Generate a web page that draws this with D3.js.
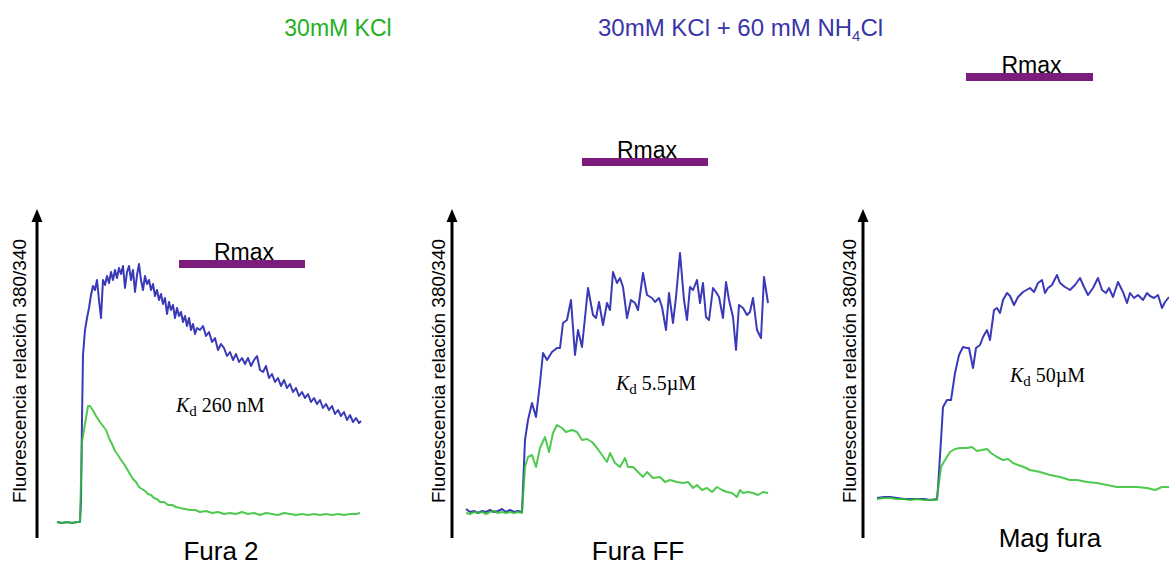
<!DOCTYPE html>
<html><head><meta charset="utf-8">
<script src="https://cdn.jsdelivr.net/npm/d3@7"></script>
<style>body{margin:0;background:#fff}svg{display:block}</style>
</head><body><svg id="c" width="1169" height="565"></svg>
<script>
// ---------------- DATA ----------------
// time (arbitrary s) and fluorescence ratio (arbitrary units, baseline = 0)
const panelNames = ["Fura 2", "Fura FF", "Mag fura"];
const kdValues = ["260 nM", "5.5\u00B5M", "50\u00B5M"];
const titleKcl = "30mM KCl";
const titleNh4 = ["30mM KCl + 60 mM NH", "4", "Cl"];
const yAxisLabel = "Fluorescencia relación 380/340";

// Fura 2
const fura2NhT = [0,5,10,15,20,23,24,25,26,28,30,32,34,36,38,40,42,44,46,48,50,52,54,56,58,60,62,64,66,68,70,72,74,76,78,80,82,84,86,88,90,92,94,96,98,100,102,104,106,108,110,112,114,116,118,120,122,124,126,128,130,132,134,136,138,140,143,146,149,152,155,158,161,164,167,170,173,176,179,182,185,188,191,194,197,200,203,206,209,212,215,218,221,224,227,230,233,236,239,242,245,248,251,254,257,260,263,266,269,272,275,278,281,284,287,290,293,296,299,302,304];
const fura2NhV = [1,0,1,0,1,1,23,103,168,193,205,215,228,237,233,243,223,205,243,238,247,240,251,243,253,245,255,249,257,235,251,257,243,253,231,248,259,243,233,247,239,243,233,239,227,233,223,229,219,225,209,221,213,218,205,215,207,211,201,207,197,205,193,199,189,195,193,197,187,191,181,185,173,179,175,167,171,163,169,161,165,159,165,157,163,167,153,151,157,145,149,141,145,137,143,135,139,131,135,127,131,125,129,121,125,119,123,115,119,113,117,109,113,107,111,103,108,101,105,100,102];
const fura2KclT = [0,5,10,15,20,23,24,25,27,29,31,33,35,37,39,41,43,46,49,52,55,58,61,64,67,70,73,76,79,82,85,88,91,94,97,100,103,107,111,115,119,123,128,133,138,143,149,155,161,167,173,179,185,191,197,203,209,215,221,227,233,239,245,251,257,263,269,275,281,287,293,299,303];
const fura2KclV = [1,0,1,0,1,1,43,81,93,105,117,117,114,111,107,104,101,97,93,85,79,72,68,63,59,54,49,44,41,36,34,32,29,28,25,24,21,21,18,18,16,15,14,13,13,11,12,10,11,9,10,9,11,9,10,8,10,9,8,10,9,8,9,8,9,8,9,8,9,8,9,9,10];

// Fura FF
const furaFFNhT = [0,4,8,12,16,20,24,28,32,36,40,44,48,52,56,59,62,66,70,74,77,81,86,91,94,97,101,105,109,112,116,122,127,130,133,137,141,144,147,151,154,157,161,165,169,172,177,181,186,189,193,196,200,203,207,210,214,218,221,224,227,231,234,237,240,243,247,250,253,257,260,263,267,270,273,277,281,284,287,291,295,298,302];
const furaFFNhV = [2,-1,0,-2,0,-1,1,-1,0,2,-1,1,-1,0,-1,71,91,108,94,128,158,151,159,163,163,188,191,211,156,181,164,223,196,193,209,186,208,201,239,228,233,224,193,211,208,201,238,216,213,209,213,204,181,218,188,214,258,211,191,224,221,231,208,228,194,191,223,219,214,193,229,211,194,161,206,203,196,199,213,181,173,234,208];
const furaFFKclT = [0,4,8,12,16,20,24,28,32,36,40,44,48,52,56,59,62,66,70,74,79,83,87,91,96,100,106,111,116,121,126,131,136,141,144,149,154,159,162,167,172,177,181,187,194,199,204,211,217,222,227,231,236,241,246,251,256,261,266,271,274,277,282,287,292,297,302];
const furaFFKclV = [-2,-3,-1,-2,-1,-3,-1,0,-2,-1,-2,-1,-2,-1,-2,44,54,56,44,63,74,59,78,86,83,79,81,79,71,72,69,63,56,49,58,48,44,53,44,44,39,34,39,33,34,29,31,29,28,29,23,26,21,23,19,24,21,19,18,14,21,18,19,18,16,19,18];

// Mag fura
const magNhT = [0,7,13,20,27,33,40,47,53,60,61,64,66,70,74,78,82,86,90,92,96,99,103,106,110,113,117,120,123,126,130,133,137,141,146,153,157,161,165,168,171,175,180,183,188,193,198,203,207,211,216,221,225,229,232,236,241,246,250,253,257,261,266,270,273,277,281,285,288,292];
const magNhV = [0,1,1,0,-1,-1,-1,-1,-2,-1,10,58,91,98,98,125,143,151,150,150,130,150,153,161,168,158,188,190,185,198,205,202,193,201,206,210,206,215,218,205,210,213,223,215,211,208,213,220,211,203,210,220,208,205,210,201,216,206,195,205,200,203,198,205,202,200,203,190,196,201];
const magKclT = [0,7,13,20,27,33,40,47,53,60,61,64,68,73,78,83,90,95,100,105,110,114,120,126,131,136,141,147,153,163,173,183,193,200,210,220,230,240,250,260,270,278,285,292];
const magKclV = [-1,0,0,-1,-1,-2,-1,-2,-2,-2,8,31,38,46,49,50,50,51,47,48,49,45,41,38,39,35,33,31,28,26,23,21,18,18,16,15,13,11,11,11,10,8,11,11];

// Rmax application windows (time units)
const rmaxStart = [122, 116, 89];
const rmaxEnd = [248, 242, 216];

// ---------------- LAYOUT ----------------
const layout = [
  {tMax:304, x0:57,  x1:361,  base:523, axisX:37,  labelX:26,  nameX:221,  nameY:560, kdX:176,  kdY:412, rmaxV:259},
  {tMax:302, x0:466, x1:768,  base:511, axisX:452, labelX:445, nameX:638,  nameY:560, kdX:616,  kdY:390, rmaxV:349},
  {tMax:292, x0:877, x1:1169, base:498, axisX:863, labelX:856, nameX:1050, nameY:547, kdX:1010, kdY:382, rmaxV:421}
];
const series = [
  {nh:[fura2NhT,fura2NhV], kcl:[fura2KclT,fura2KclV]},
  {nh:[furaFFNhT,furaFFNhV], kcl:[furaFFKclT,furaFFKclV]},
  {nh:[magNhT,magNhV], kcl:[magKclT,magKclV]}
];
const BLUE = "#3a3ab8", GREEN = "#30c030", PURPLE = "#7c1c7c";
const SANS = "'Liberation Sans', Arial, sans-serif";
const SERIF = "'Liberation Serif', 'Times New Roman', serif";

const svg = d3.select("#c");
svg.append("rect").attr("width",1169).attr("height",565).attr("fill","#fff");

// titles
svg.append("text").attr("x",338).attr("y",36).attr("text-anchor","middle")
  .attr("font-family",SANS).attr("font-size",23).attr("fill","#22b022").text(titleKcl);
const t2 = svg.append("text").attr("x",598).attr("y",36)
  .attr("font-family",SANS).attr("font-size",24).attr("fill","#3a35a8");
t2.append("tspan").text(titleNh4[0]);
t2.append("tspan").attr("font-size",15).attr("dy",5).text(titleNh4[1]);
t2.append("tspan").attr("dy",-5).text(titleNh4[2]);

layout.forEach((L, i) => {
  const x = d3.scaleLinear().domain([0, L.tMax]).range([L.x0, L.x1]);
  const y = d3.scaleLinear().domain([0, 300]).range([L.base, L.base - 300]);
  const g = svg.append("g");

  // axis arrow
  g.append("line").attr("x1",L.axisX).attr("x2",L.axisX)
    .attr("y1",538).attr("y2",220).attr("stroke","#000").attr("stroke-width",3);
  g.append("path").attr("d",`M${L.axisX-5.5},222 L${L.axisX},209 L${L.axisX+5.5},222 Z`).attr("fill","#000");

  // y label
  g.append("text").attr("transform",`translate(${L.labelX},371) rotate(-90)`)
    .attr("text-anchor","middle").attr("font-family",SANS).attr("font-size",19)
    .attr("fill","#000").text(yAxisLabel);

  const line = d3.line().x(d => x(d[0])).y(d => y(d[1]));
  const nh = d3.zip(series[i].nh[0], series[i].nh[1]);
  const kcl = d3.zip(series[i].kcl[0], series[i].kcl[1]);
  g.append("path").attr("d", line(nh)).attr("fill","none").attr("stroke",BLUE)
    .attr("stroke-width",2).attr("stroke-linejoin","round");
  g.append("path").attr("d", line(kcl)).attr("fill","none").attr("stroke",GREEN)
    .attr("stroke-width",2).attr("stroke-linejoin","round").attr("opacity",0.85);

  // Rmax bar + label
  const by = y(L.rmaxV);
  g.append("text").attr("x",(x(rmaxStart[i])+x(rmaxEnd[i]))/2 + 2).attr("y",by-4)
    .attr("text-anchor","middle").attr("font-family",SANS).attr("font-size",23)
    .attr("fill","#000").text("Rmax");
  g.append("rect").attr("x",x(rmaxStart[i])).attr("width",x(rmaxEnd[i])-x(rmaxStart[i]))
    .attr("y",by-4).attr("height",8).attr("fill",PURPLE);

  // Kd label
  const kd = g.append("text").attr("x",L.kdX).attr("y",L.kdY)
    .attr("font-family",SERIF).attr("font-size",20).attr("fill","#000");
  kd.append("tspan").attr("font-style","italic").text("K");
  kd.append("tspan").attr("font-size",15).attr("dy",4).text("d");
  kd.append("tspan").attr("dy",-4).text(" " + kdValues[i]);

  // panel name
  g.append("text").attr("x",L.nameX).attr("y",L.nameY).attr("text-anchor","middle")
    .attr("font-family",SANS).attr("font-size",26).attr("fill","#000").text(panelNames[i]);
});
</script></body></html>
